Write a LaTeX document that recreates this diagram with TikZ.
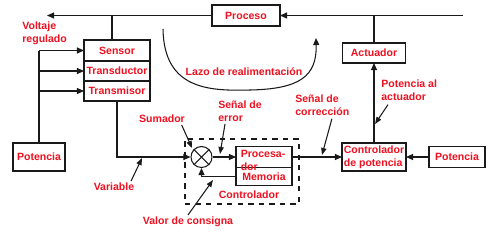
\documentclass[tikz,border=0pt]{standalone}
\usepackage{fontspec}
\setmainfont{Liberation Sans}
\usetikzlibrary{arrows.meta,positioning,calc}
\definecolor{lblred}{HTML}{F01020}
\definecolor{ink}{HTML}{1A1A1A}

\begin{document}
\begin{tikzpicture}[x=0.02cm,y=-0.02cm,
  font=\fontsize{6}{7.2}\selectfont\bfseries,
  blk/.style={draw=ink,line width=0.6pt,fill=white,text=lblred,inner sep=1pt,outer sep=0pt},
  txt/.style={text=lblred,inner sep=0pt,align=left},
  wire/.style={draw=ink,line width=0.6pt},
  flow/.style={wire,-{Triangle[length=4pt,width=3.4pt]}},
  callout/.style={wire,-{Triangle[length=4pt,width=3pt]}}]
  \useasboundingbox[fill=white] (0,0) rectangle (500,238);

  % process and feedback chain
  \node[blk,minimum width=1.36cm,minimum height=0.42cm] (proc) at (246,15.5) {Proceso};
  \node[blk,minimum width=1.32cm,minimum height=0.42cm] (sensor) at (117,50.5) {Sensor};
  \node[blk,minimum width=1.32cm,minimum height=0.40cm,below=0pt of sensor] (transd) {Transductor};
  \node[blk,minimum width=1.32cm,minimum height=0.40cm,below=0pt of transd] (transm) {Transmisor};
  \node[blk,minimum width=1.04cm,minimum height=0.56cm] (potL) at (39,157) {Potencia};
  \node[blk,minimum width=1.26cm,minimum height=0.40cm] (act) at (374,53) {Actuador};

  % controller
  \node[draw=ink,dashed,line width=0.7pt,minimum width=2.28cm,minimum height=1.3cm] (ctrl) at (242,171.5) {};
  \node[circle,draw=ink,fill=white,line width=0.6pt,minimum size=0.42cm,inner sep=0pt] (sum) at (201.5,157) {};
  \draw[wire] (sum.north east) -- (sum.south west) (sum.north west) -- (sum.south east);
  \node[blk,minimum width=1.12cm,minimum height=0.42cm] (procs) at (264,157) {};
  \node[blk,minimum width=1.12cm,minimum height=0.36cm,below=0pt of procs] (mem) {Memoria};
  \node[txt,anchor=north west] (procstxt) at ([xshift=2.5pt,yshift=-2.2pt]procs.north west) {Procesa-\\dor};
  \node[txt] (ctrllbl) at (249,195) {Controlador};

  \node[blk,minimum width=1.28cm,minimum height=0.56cm,align=left] (cpot) at (374,157) {Controlador\\de potencia};
  \node[blk,minimum width=1.12cm,minimum height=0.42cm] (potR) at (457,157) {Potencia};

  % main lines
  \coordinate (topR) at (463,15.5);
  \coordinate (voltEnd) at (47,15.5);
  \coordinate (tap) at (112,15.5);
  \draw[flow] (topR) -- (proc);
  \draw[flow] (proc) -- (voltEnd);
  \draw[wire] (act.north) -- (act.north |- topR);
  \draw[wire] (tap) -- (tap |- sensor.north);
  \draw[wire] (potL.north) -- (potL.north |- sensor.west);
  \foreach \b in {sensor,transd,transm}
    \draw[flow] (potL.north |- \b.west) -- (\b.west);
  \draw[flow] (transm.south) |- (sum.west);
  \draw[flow] (sum.east) -- (procs.west);
  \draw[flow] (mem.west) -| (sum.south);
  \draw[flow] (procs.east) -- (cpot.west);
  \draw[flow] (potR) -- (cpot);
  \draw[flow] (cpot) -- (act);

  % feedback loop
  \node[txt] (lazo) at (244,72) {Lazo de realimentación};
  \coordinate (lzA) at (163,29);
  \coordinate (lzB) at (316,38);
  \draw[flow] (lzA) .. controls (164,90) and (210,91) .. (250,90) .. controls (300,89) and (317,76) .. (lzB);

  % labels
  \node[txt,anchor=north west] (volt) at (22,21.5) {Voltaje\\regulado};
  \node[txt] (lblSum) at (162,119) {Sumador};
  \node[txt,anchor=north west] (lblErr) at (218,101) {Señal de\\error};
  \node[txt,anchor=north west] (lblCor) at (295,95) {Señal de\\corrección};
  \node[txt,anchor=north west] (lblPa) at (381,80) {Potencia al\\actuador};
  \node[txt] (lblVar) at (114,187) {Variable};
  \node[txt] (lblVc) at (188,222) {Valor de consigna};

  \coordinate (sumTip) at (192,148);
  \coordinate (errTip) at (220,154);
  \coordinate (varTip) at (142,158);
  \coordinate (vcTip) at (213,180);
  \coordinate (corTip) at (322,155);
  \coordinate (paTip) at (375,124);
  \draw[callout] ([xshift=-2pt,yshift=-1pt]lblSum.south east) -- (sumTip);
  \draw[callout] ([xshift=4pt,yshift=-1pt]lblErr.south west) -- (errTip);
  \draw[callout] ([xshift=-2pt,yshift=1pt]lblVar.north east) -- (varTip);
  \draw[callout] ([yshift=1pt]lblVc.north) -- (vcTip);
  \draw[callout] ([xshift=21pt,yshift=-1.5pt]lblCor.south west) -- (corTip);
  \draw[callout] ([xshift=4pt,yshift=-2pt]lblPa.south west) -- (paTip);
\end{tikzpicture}
\end{document}
